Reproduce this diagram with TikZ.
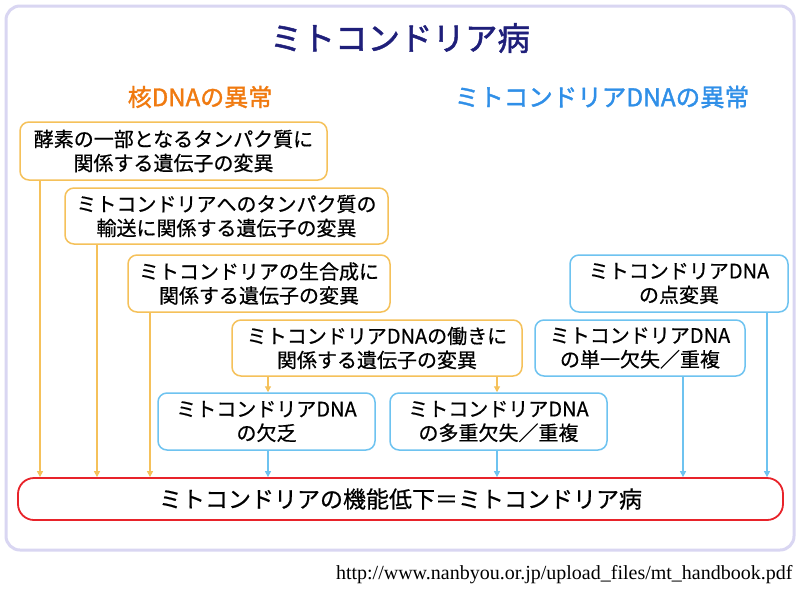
\documentclass[tikz,border=0pt]{standalone}
\usepackage{fontspec}
\setmainfont{Noto Sans CJK JP}[AutoFakeBold=1.5]
\newfontfamily\boxfont{Noto Sans CJK JP}[FakeBold=0.6]
\newfontfamily\urlfont{Liberation Serif}
\usetikzlibrary{arrows.meta}
\definecolor{ob}{HTML}{F5C15A}
\definecolor{bb}{HTML}{6EC3F0}
\definecolor{rb}{HTML}{E8232A}
\definecolor{frame}{HTML}{D9D6F2}
\definecolor{navy}{HTML}{1F1F7A}
\definecolor{orh}{HTML}{F07A10}
\definecolor{blh}{HTML}{2F8FE8}
\tikzset{
 obox/.style={draw=ob,line width=1.5pt,rounded corners=9pt,fill=white,align=center,font=\boxfont\fontsize{20}{24}\selectfont,inner sep=0pt},
 bbox/.style={draw=bb,line width=1.5pt,rounded corners=9pt,fill=white,align=center,font=\boxfont\fontsize{20}{24}\selectfont,inner sep=0pt},
 oar/.style={draw=ob,line width=1.2pt,-{Triangle[length=6pt,width=6pt]}},
 bar/.style={draw=bb,line width=1.2pt,-{Triangle[length=6pt,width=6pt]}},
}
\begin{document}
\begin{tikzpicture}[x=1pt,y=-1pt]
\useasboundingbox (0,0) rectangle (800,590);
\fill[white] (0,0) rectangle (800,590);
\draw[frame,line width=3pt,rounded corners=14pt] (6,6) rectangle (794,550);
\node[font=\fontsize{32.5}{36}\selectfont\bfseries,text=navy] (title) at (400,38) {ミトコンドリア病};
\node[font=\fontsize{24}{28}\selectfont\bfseries,text=orh] (h1) at (200,97) {核DNAの異常};
\node[font=\fontsize{24.5}{28}\selectfont\bfseries,text=blh] (h2) at (602,97) {ミトコンドリアDNAの異常};
\node[obox,minimum width=307pt,minimum height=58pt] (b1) at (173.5,151) {酵素の一部となるタンパク質に\\関係する遺伝子の変異};
\node[obox,minimum width=323pt,minimum height=56pt] (b2) at (226.5,216) {ミトコンドリアへのタンパク質の\\輸送に関係する遺伝子の変異};
\node[obox,minimum width=262pt,minimum height=57pt] (b3) at (259,283.5) {ミトコンドリアの生合成に\\関係する遺伝子の変異};
\node[obox,minimum width=290pt,minimum height=56pt] (b4) at (377,348) {ミトコンドリアDNAの働きに\\関係する遺伝子の変異};
\node[bbox,minimum width=218pt,minimum height=57pt] (b5) at (679,283.5) {ミトコンドリアDNA\\の点変異};
\node[bbox,minimum width=210pt,minimum height=56pt] (b6) at (640,348) {ミトコンドリアDNA\\の単一欠失／重複};
\node[bbox,minimum width=217pt,minimum height=57pt] (b7) at (266.5,421.5) {ミトコンドリアDNA\\の欠乏};
\node[bbox,minimum width=217pt,minimum height=57pt] (b8) at (498.5,421.5) {ミトコンドリアDNA\\の多重欠失／重複};
\node[draw=rb,line width=1.8pt,rounded corners=16pt,minimum width=765pt,minimum height=42pt,font=\boxfont\fontsize{23}{26}\selectfont,inner sep=0pt] (r) at (400.5,499) {ミトコンドリアの機能低下＝ミトコンドリア病};
\draw[oar] (b1.south -| 40,0) -- (r.north -| 40,0);
\draw[oar] (b2.south -| 97,0) -- (r.north -| 97,0);
\draw[oar] (b3.south -| 150,0) -- (r.north -| 150,0);
\draw[oar] (b4.south -| 268,0) -- (b7.north -| 268,0);
\draw[oar] (b4.south -| 497,0) -- (b8.north -| 497,0);
\draw[bar] (b7.south -| 268,0) -- (r.north -| 268,0);
\draw[bar] (b8.south -| 497,0) -- (r.north -| 497,0);
\draw[bar] (b6.south -| 683,0) -- (r.north -| 683,0);
\draw[bar] (b5.south -| 767,0) -- (r.north -| 767,0);
\node[font=\urlfont\fontsize{20}{22}\selectfont,anchor=east] (url) at (796,575) {http://www.nanbyou.or.jp/upload\_files/mt\_handbook.pdf};
\end{tikzpicture}
\end{document}
